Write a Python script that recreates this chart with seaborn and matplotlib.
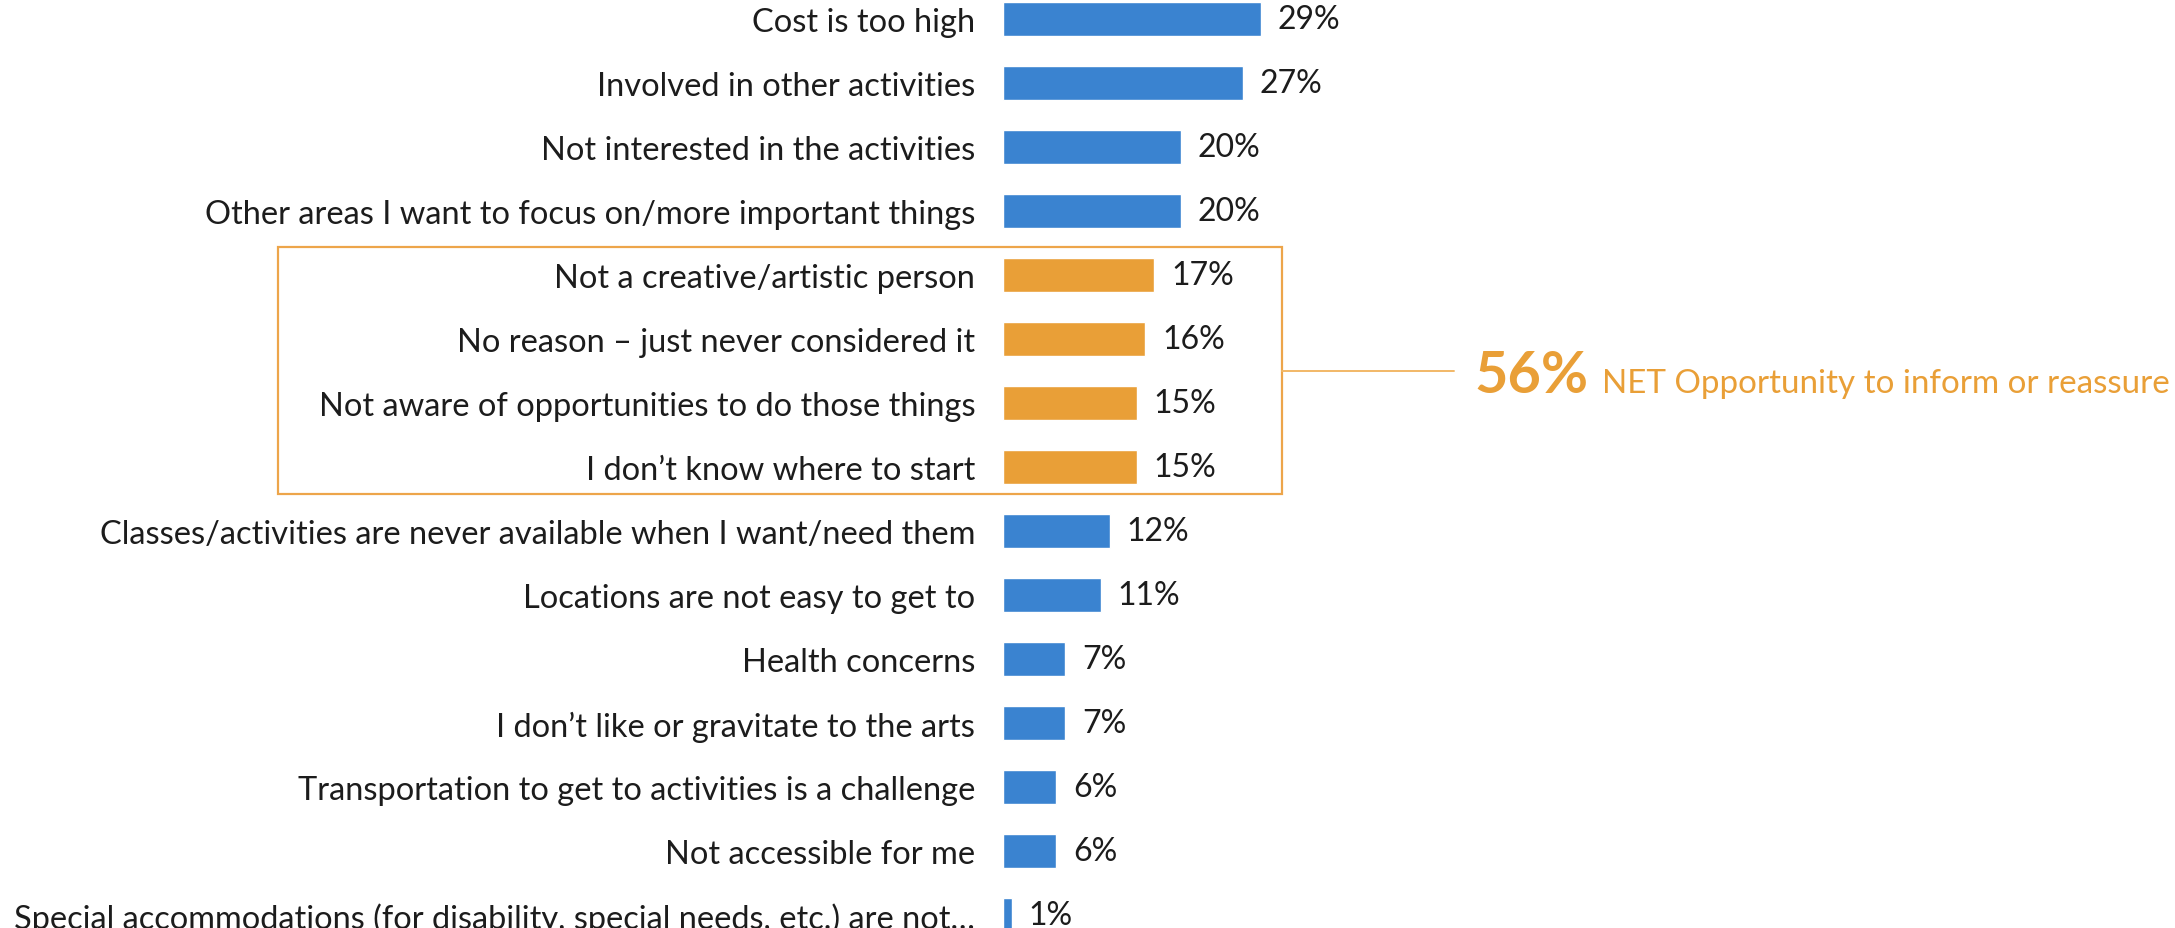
import matplotlib
matplotlib.use("Agg")
import matplotlib.pyplot as plt
from matplotlib.patches import Rectangle
from matplotlib.lines import Line2D
import seaborn as sns
import pandas as pd

categories = [
    "Cost is too high",
    "Involved in other activities",
    "Not interested in the activities",
    "Other areas I want to focus on/more important things",
    "Not a creative/artistic person",
    "No reason \u2013 just never considered it",
    "Not aware of opportunities to do those things",
    "I don\u2019t know where to start",
    "Classes/activities are never available when I want/need them",
    "Locations are not easy to get to",
    "Health concerns",
    "I don\u2019t like or gravitate to the arts",
    "Transportation to get to activities is a challenge",
    "Not accessible for me",
    "Special accommodations (for disability, special needs, etc.) are not\u2026",
]
values = [29, 27, 20, 20, 17, 16, 15, 15, 12, 11, 7, 7, 6, 6, 1]
groups = ["other"] * 4 + ["inform"] * 4 + ["other"] * 7
net_value = 56
net_text = "NET Opportunity to inform or reassure"

BLUE = "#3A83D0"
ORANGE = "#E99F37"
BOX = "#EDA54A"
TEXT = "#1c1c1c"

sns.set_theme(style="white")
plt.rcParams["font.family"] = ["Lato", "DejaVu Sans"]

W, H = 2175, 929
fig = plt.figure(figsize=(W / 100, H / 100), dpi=100)
renderer = fig.canvas.get_renderer()


def fit_size(text, width_px, base=20.0, **kw):
    """Font size (pt) at which `text` spans `width_px` pixels."""
    t = fig.text(0, 0, text, fontsize=base, **kw)
    w = t.get_window_extent(renderer).width
    t.remove()
    return base * width_px / w


label_size = fit_size(categories[8], 880)
last_size = min(label_size, fit_size(categories[-1], 962))
value_size = label_size * 0.98
big_size = fit_size(f"{net_value}%", 114, fontweight="bold")
net_size = fit_size(net_text, 568)

# axes geometry in pixels: bars start at x=1003, 64 px per row
x0, px_per_unit, xmax = 1003, 8.9, 130
row, first_c, n = 64, 20, len(categories)
top_px = first_c - row / 2
bot_px = top_px + row * n
ax = fig.add_axes([x0 / W, (H - bot_px) / H, xmax * px_per_unit / W, (bot_px - top_px) / H])

df = pd.DataFrame({"cat": categories, "val": values, "grp": groups})
sns.barplot(data=df, y="cat", x="val", hue="grp", orient="h", dodge=False,
            palette={"other": BLUE, "inform": ORANGE}, width=0.53,
            saturation=1, legend=False, ax=ax)

for cont in ax.containers:
    labs = [f"{v:.0f}%" if w.get_width() > 0 else "" for v, w in zip(cont.datavalues, cont)]
    ax.bar_label(cont, labels=labs, padding=12, fontsize=value_size, color=TEXT)

ax.set_xlim(0, xmax)
ax.set_ylim(n - 0.5, -0.5)
ax.set_xlabel("")
ax.set_ylabel("")
ax.set_xticks([])
ax.tick_params(axis="y", length=0, pad=20, labelsize=label_size, labelcolor=TEXT)
ax.get_yticklabels()[-1].set_fontsize(last_size)
for s in ax.spines.values():
    s.set_visible(False)


def fx(px):
    return px / W


def fy(py):
    return (H - py) / H


# highlight box around the four "inform" rows
bx0, by0, bx1, by1 = 278, 248, 1282, 495
fig.add_artist(Rectangle((fx(bx0), fy(by1)), fx(bx1 - bx0), (by1 - by0) / H,
                         transform=fig.transFigure, fill=False,
                         edgecolor=BOX, linewidth=1.6))
fig.add_artist(Line2D([fx(bx1), fx(1454)], [fy(372), fy(372)],
                      transform=fig.transFigure, color="#F2B867", linewidth=1.4))

fig.text(fx(1474), fy(393), f"{net_value}%", fontsize=big_size, fontweight="bold",
         color=ORANGE, va="baseline", ha="left")
fig.text(fx(1602), fy(393), net_text, fontsize=net_size, color=ORANGE,
         va="baseline", ha="left")

fig.savefig("out.png", dpi=100)
